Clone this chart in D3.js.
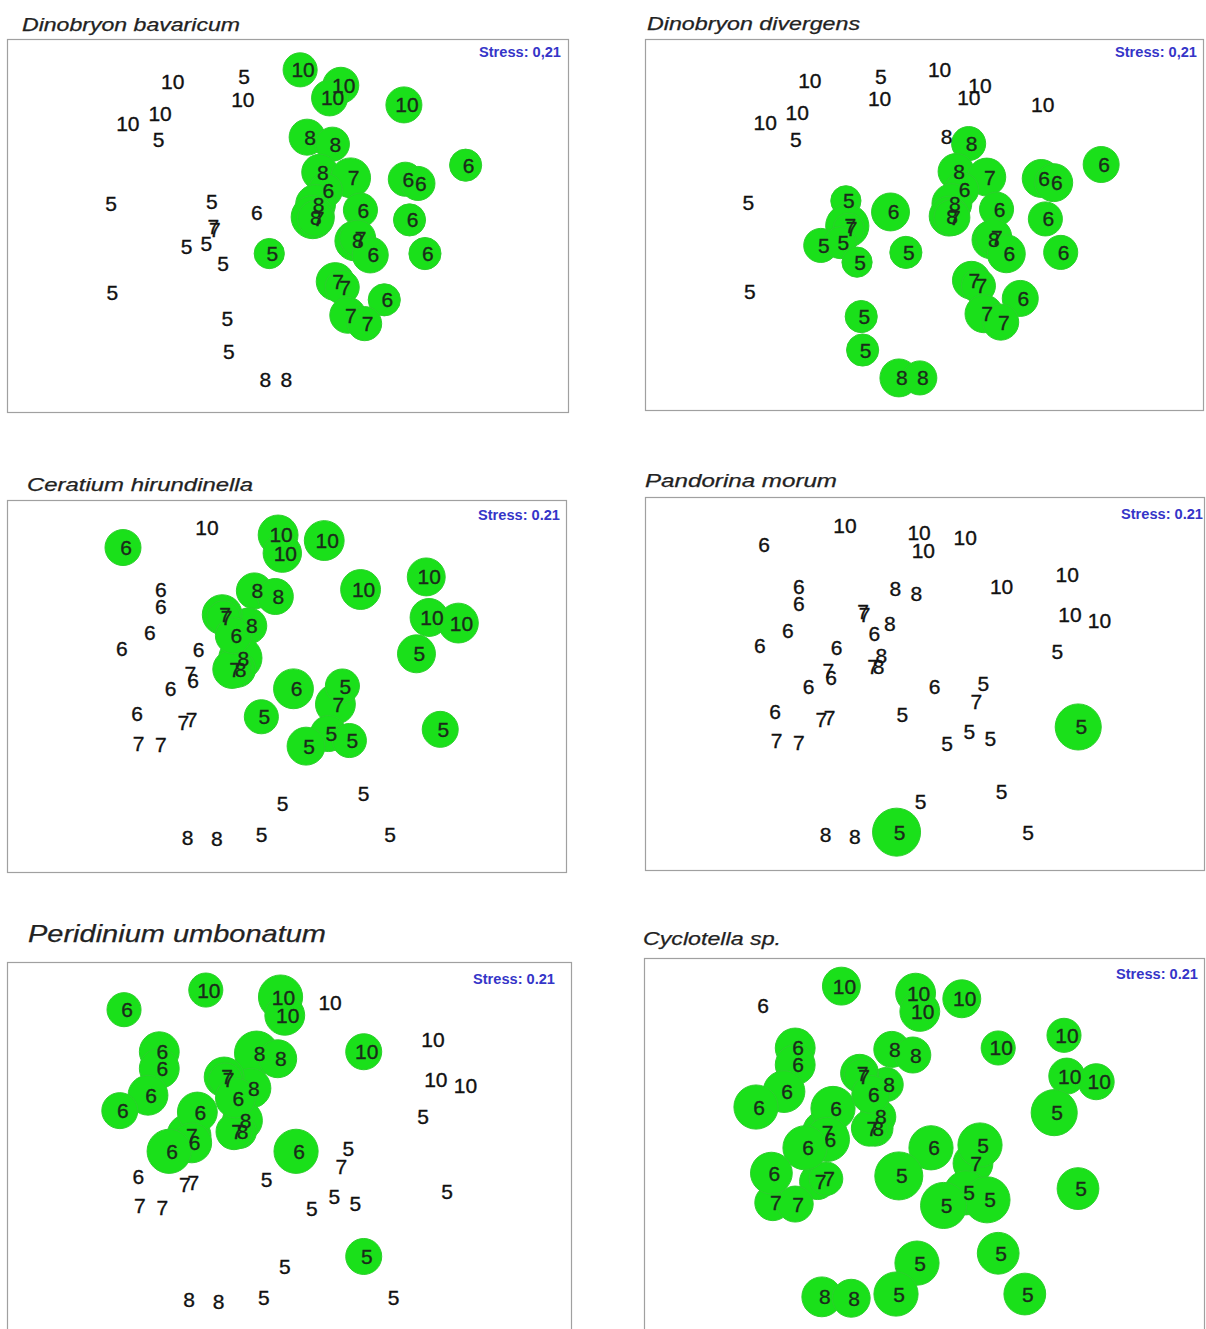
<!DOCTYPE html>
<html>
<head>
<meta charset="utf-8">
<script src="https://d3js.org/d3.v7.min.js"></script>
<style>
  html, body { margin: 0; padding: 0; background: #fff; }
  svg { display: block; }
</style>
</head>
<body>
<div id="chart"></div>
<script>
// ---------------- DATA ----------------
const speciesNames = ["Dinobryon bavaricum", "Dinobryon divergens", "Ceratium hirundinella",
                      "Pandorina morum", "Peridinium umbonatum", "Cyclotella sp."];
const stressLabels = ["Stress: 0,21", "Stress: 0,21", "Stress: 0.21", "Stress: 0.21", "Stress: 0.21", "Stress: 0.21"];

// NMDS configuration A (Dinobryon panels): sample month labels and axis scores
const monthsA = [10,5,10,10,10,5,5,5,6,7,7,5,5,5,5,5,5,5,8,8,10,10,10,10,8,8,6,8,7,6,6,6,8,8,7,6,6,8,7,6,6,7,7,6,7,7];
const nmds1A = [-0.84,-0.33,-0.34,-0.93,-1.16,-0.94,-1.28,-0.56,-0.24,-0.55,-0.54,-0.74,-0.60,-0.13,-0.48,-1.27,-0.45,-0.44,-0.18,-0.03,
                0.09,0.38,0.30,0.83,0.14,0.32,1.27,0.23,0.45,0.27,0.84,0.93,0.20,0.18,0.20,0.52,0.87,0.48,0.50,0.59,0.98,0.34,0.39,0.69,0.43,0.55];
const nmds2A = [1.03,1.06,0.90,0.80,0.73,0.61,0.16,0.17,0.09,-0.01,-0.03,-0.15,-0.13,-0.20,-0.27,-0.48,-0.66,-0.90,-1.10,-1.10,
                1.11,1.00,0.91,0.86,0.63,0.58,0.43,0.38,0.34,0.25,0.33,0.30,0.15,0.06,0.05,0.11,0.04,-0.11,-0.09,-0.21,-0.20,-0.40,-0.44,-0.53,-0.64,-0.70];

// NMDS configuration B (other panels)
const monthsB = [10,10,10,10,10,10,10,10, 8,8,8,8,8,8,8, 7,7,7,7,7,7,7,7,7, 6,6,6,6,6,6,6,6,6,6,6, 5,5,5,5,5,5,5,5,5,5,5];
const nmds1B = [-0.59,-0.06,-0.03,0.27,0.53,1.00,1.02,1.23, -0.23,-0.08,-0.27,-0.33,-0.35,-0.73,-0.52,
                -0.46,-0.45,-0.39,-0.71,-0.76,-0.70,-1.08,-0.92,0.35,
                -1.17,-0.92,-0.92,-1.00,-1.20,-0.65,-0.38,-0.69,-0.85,-1.09,0.05,
                -0.18,0.93,0.40,0.30,0.45,0.14,1.10,0.53,-0.05,0.72,-0.20];
const nmds2B = [1.13,1.08,0.95,1.04,0.69,0.78,0.49,0.45, 0.68,0.64,0.43,0.20,0.12,-1.08,-1.09,
                0.51,0.49,0.12,0.09,-0.26,-0.24,-0.41,-0.42,-0.13,
                0.99,0.69,0.57,0.38,0.27,0.26,0.36,0.04,-0.02,-0.20,-0.02,
                -0.22,0.23,0.00,-0.34,-0.39,-0.43,-0.31,-0.77,-0.84,-1.06,-1.06];

// Bubble sizes (relative abundance, 0 = absent) per species, in sample order of its configuration
const abundBavaricum = [0,0,0,0,0,0,0,0,0,0,0,0,0,6.3,0,0,0,0,0,0,7.1,7.5,7.5,7.5,7.5,7.1,6.7,7.5,8.3,7.1,7.1,7.1,8.3,9.0,7.5,7.1,6.7,8.3,7.5,7.5,6.7,7.9,7.1,6.7,7.5,7.1];
const abundDivergens = [0,0,0,0,0,0,0,6.3,7.9,9.0,6.5,7.1,6.7,6.7,6.3,0,6.7,6.7,7.9,7.1,0,0,0,0,0,7.1,7.5,7.5,7.9,7.1,7.9,7.9,8.3,8.3,7.5,7.1,7.1,7.9,7.5,7.9,7.1,7.9,7.1,7.5,7.9,7.5];
const abundCeratium   = [0,8.3,8.0,8.3,8.3,7.9,7.9,8.3, 7.5,7.5,7.5,9.0,7.5,0,0, 8.3,7.0,8.0,0,0,0,0,0,8.3, 7.5,0,0,0,0,0,7.5,0,0,0,8.3, 7.1,7.9,7.1,7.5,7.1,7.9,7.5,0,0,0,0];
const abundPandorina  = [0,0,0,0,0,0,0,0, 0,0,0,0,0,0,0, 0,0,0,0,0,0,0,0,0, 0,0,0,0,0,0,0,0,0,0,0, 0,0,0,0,0,0,9.6,0,0,0,10];
const abundPeridinium = [7.1,9.2,8.3,0,7.5,0,0,0, 9.2,7.9,8.3,8.3,7.0,0,0, 8.3,7.0,7.5,9.2,0,0,0,0,0, 7.1,8.3,8.3,8.3,7.5,8.3,8.3,8.3,9.2,0,9.2, 0,0,0,0,0,0,0,7.5,0,0,0];
const abundCyclotella = [7.9,8.3,8.3,7.9,7.1,7.1,7.5,7.5, 7.5,7.5,7.1,7.5,7.5,8.3,7.9, 7.9,7.0,7.5,9.2,7.5,7.0,7.5,7.5,8.3, 0,8.3,8.3,8.7,9.2,9.2,7.9,9.2,9.2,8.7,9.2, 10,9.6,9.2,9.2,9.6,9.6,8.7,8.7,9.2,8.7,9.2];

// ---------------- LAYOUT ----------------
const W = 1206, H = 1329;
const configs = {
  A: monthsA.map((m, i) => ({ month: m, x: nmds1A[i], y: nmds2A[i] })),
  B: monthsB.map((m, i) => ({ month: m, x: nmds1B[i], y: nmds2B[i] }))
};
const abund = [abundBavaricum, abundDivergens, abundCeratium, abundPandorina, abundPeridinium, abundCyclotella];
const panels = [
  { cfg: "A", box: [7, 39, 561, 373],   title: { x: 22,  y: 31,  size: 18, len: 218 }, stress: { x: 561,  y: 57 } },
  { cfg: "A", box: [645, 39, 558, 371], title: { x: 647, y: 30,  size: 18, len: 213, clipTop: 15.5 }, stress: { x: 1197, y: 57 } },
  { cfg: "B", box: [7, 500, 559, 372],  title: { x: 27,  y: 491, size: 19, len: 226 }, stress: { x: 560,  y: 520 } },
  { cfg: "B", box: [645, 497, 559, 373],title: { x: 645, y: 487, size: 19, len: 192 }, stress: { x: 1203, y: 519 } },
  { cfg: "B", box: [7, 962, 564, 373],  title: { x: 28,  y: 942, size: 24, len: 298 }, stress: { x: 555,  y: 984 } },
  { cfg: "B", box: [644, 958, 560, 374],title: { x: 643, y: 945, size: 19, len: 138 }, stress: { x: 1198, y: 979 } }
];

const GREEN = "#1ae01a";
const rScale = d3.scaleLinear().domain([0, 10]).range([0, 24]);

const svg = d3.select("#chart").append("svg")
  .attr("width", W).attr("height", H)
  .attr("viewBox", `0 0 ${W} ${H}`);
svg.append("rect").attr("width", W).attr("height", H).attr("fill", "#fff");

const defs = svg.append("defs");

panels.forEach((p, pi) => {
  const [bx, by, bw, bh] = p.box;
  const g = svg.append("g");

  // title
  let tg = g;
  if (p.title.clipTop) {
    const id = "clipTitle" + pi;
    defs.append("clipPath").attr("id", id)
      .append("rect").attr("x", bx - 10).attr("y", p.title.clipTop).attr("width", bw + 20).attr("height", 40);
    tg = g.append("g").attr("clip-path", `url(#${id})`);
  }
  tg.append("text")
    .attr("x", p.title.x).attr("y", p.title.y)
    .attr("font-family", "'Liberation Sans', Arial, sans-serif")
    .attr("font-style", "italic")
    .attr("font-size", p.title.size)
    .attr("fill", "#222")
    .attr("stroke", "#222").attr("stroke-width", 0.25)
    .attr("textLength", p.title.len)
    .attr("lengthAdjust", "spacingAndGlyphs")
    .text(speciesNames[pi]);

  // frame
  g.append("rect")
    .attr("x", bx + 0.5).attr("y", by + 0.5)
    .attr("width", bw).attr("height", bh)
    .attr("fill", "#fff")
    .attr("stroke", "#a0a0a0").attr("stroke-width", 1.2);

  const clipId = "clipBox" + pi;
  defs.append("clipPath").attr("id", clipId)
    .append("rect").attr("x", bx + 1).attr("y", by + 1).attr("width", bw - 1).attr("height", bh - 1);

  const x = d3.scaleLinear().domain([-2, 2]).range([bx, bx + bw]);
  const y = d3.scaleLinear().domain([-1.33, 1.33]).range([by + bh, by]);

  const pts = configs[p.cfg].map((d, i) => ({ ...d, a: abund[pi][i] }));
  const plot = g.append("g").attr("clip-path", `url(#${clipId})`);

  // bubbles
  plot.append("g").selectAll("circle")
    .data(pts.filter(d => d.a > 0))
    .join("circle")
    .attr("cx", d => x(d.x))
    .attr("cy", d => y(d.y))
    .attr("r", d => rScale(d.a))
    .attr("fill", GREEN)
    .attr("stroke", "#2ccf2c")
    .attr("stroke-width", 1);

  // month labels
  plot.append("g").selectAll("text")
    .data(pts)
    .join("text")
    .attr("x", d => x(d.x) + 3)
    .attr("y", d => y(d.y) + 7.5)
    .attr("text-anchor", "middle")
    .attr("font-family", "'Liberation Sans', Arial, sans-serif")
    .attr("font-size", 21)
    .attr("fill", d => d.a > 0 ? "#1a2a1a" : "#111")
    .attr("stroke", d => d.a > 0 ? "#1a2a1a" : "#111")
    .attr("stroke-width", 0.35)
    .text(d => d.month);

  // stress
  g.append("text")
    .attr("x", p.stress.x).attr("y", p.stress.y)
    .attr("text-anchor", "end")
    .attr("font-family", "'Liberation Sans', Arial, sans-serif")
    .attr("font-size", 14)
    .attr("font-weight", "bold")
    .attr("fill", "#3535c8")
    .attr("textLength", 82)
    .attr("lengthAdjust", "spacingAndGlyphs")
    .text(stressLabels[pi]);
});
</script>
</body>
</html>
